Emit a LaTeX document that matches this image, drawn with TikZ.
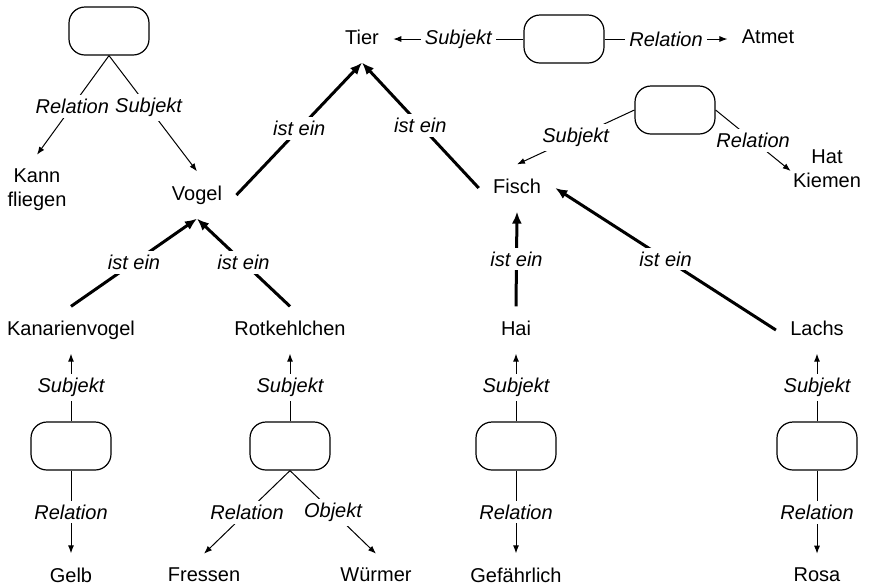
\documentclass[tikz,border=0pt]{standalone}
\usepackage{fontspec}
\setmainfont{Liberation Sans}
\usetikzlibrary{arrows.meta}
\tikzset{
    rel/.style={draw, rounded corners=8pt, minimum width=40pt, minimum height=24pt, line width=0.6pt},
    concept/.style={inner sep=7pt, text depth=2pt},
    lbl/.style={font=\itshape, fill=white, inner sep=2pt},
    link/.style={line width=0.5pt, -{Latex[length=4pt, width=3pt]}},
    isa/.style={line width=1.5pt, -{Latex[length=6pt, width=5pt]}}
}
\begin{document}
\begin{tikzpicture}[x=0.5pt, y=-0.5pt]
                        \useasboundingbox (0, 0) rectangle (870, 586);

                        \node[rel] (rTier) at (564, 39) {};
                        \node[rel] (rVogel) at (109, 31) {};
                        \node[rel] (rFisch) at (675, 110) {};
                        \node[rel] (rKan) at (71, 446) {};
                        \node[rel] (rRot) at (290, 446) {};
                        \node[rel] (rHai) at (516, 446) {};
                        \node[rel] (rLachs) at (817, 446) {};

                        \node[concept] (tier) at (362, 39) {Tier};
                        \node[concept] (atmet) at (768, 39) {Atmet};
                        \node[concept, align=center] (kann) at (37, 190) {Kann\\fliegen};
                        \node[concept] (vogel) at (197, 195) {Vogel};
                        \node[concept] (fisch) at (517, 188) {Fisch};
                        \node[concept, align=center, inner xsep=1pt] (kiemen) at (827, 171) {Hat\\Kiemen};
                        \node[concept] (kanv) at (71, 330) {Kanarienvogel};
                        \node[concept] (rotk) at (290, 330) {Rotkehlchen};
                        \node[concept] (hai) at (516, 330) {Hai};
                        \node[concept] (lachs) at (817, 330) {Lachs};
                        \node[concept] (gelb) at (71, 577) {Gelb};
                        \node[concept] (fressen) at (204, 577) {Fressen};
                        \node[concept] (wuermer) at (376, 577) {Würmer};
                        \node[concept] (gefahr) at (516, 577) {Gefährlich};
                        \node[concept] (rosa) at (817, 577) {Rosa};

                        \draw
                        (rTier) edge[link] node[lbl] {Subjekt} (tier)
                        (rTier) edge[link] node[lbl] {Relation} (atmet)
                        (rVogel.south) edge[link] node[lbl, pos=0.51] {Relation} (kann.north)
                        (rVogel.south) edge[link] node[lbl, pos=0.45] {Subjekt} (vogel.north)
                        (rFisch.west) edge[link] node[lbl] {Subjekt} (fisch.north)
                        (rFisch.east) edge[link] node[lbl] {Relation} (kiemen.west)
                        (rKan.north) edge[link] node[lbl] {Subjekt} (kanv.south)
                        (rKan.south) edge[link] node[lbl] {Relation} (gelb.north)
                        (rRot.north) edge[link] node[lbl] {Subjekt} (rotk.south)
                        (rRot.south) edge[link] node[lbl] {Relation} (fressen.north)
                        (rRot.south) edge[link] node[lbl] {Objekt} (wuermer.north)
                        (rHai.north) edge[link] node[lbl] {Subjekt} (hai.south)
                        (rHai.south) edge[link] node[lbl] {Relation} (gefahr.north)
                        (rLachs.north) edge[link] node[lbl] {Subjekt} (lachs.south)
                        (rLachs.south) edge[link] node[lbl] {Relation} (rosa.north);

                        \draw
                        (vogel.east) edge[isa] node[lbl] {ist ein} (tier.south)
                        (fisch.west) edge[isa] node[lbl] {ist ein} (tier.south)
                        (kanv.north) edge[isa] node[lbl] {ist ein} (vogel.south)
                        (rotk.north) edge[isa] node[lbl] {ist ein} (vogel.south)
                        (hai.north) edge[isa] node[lbl] {ist ein} (fisch.south)
                        (lachs.west) edge[isa] node[lbl] {ist ein} (fisch.east);
                    \end{tikzpicture}
\end{document}
